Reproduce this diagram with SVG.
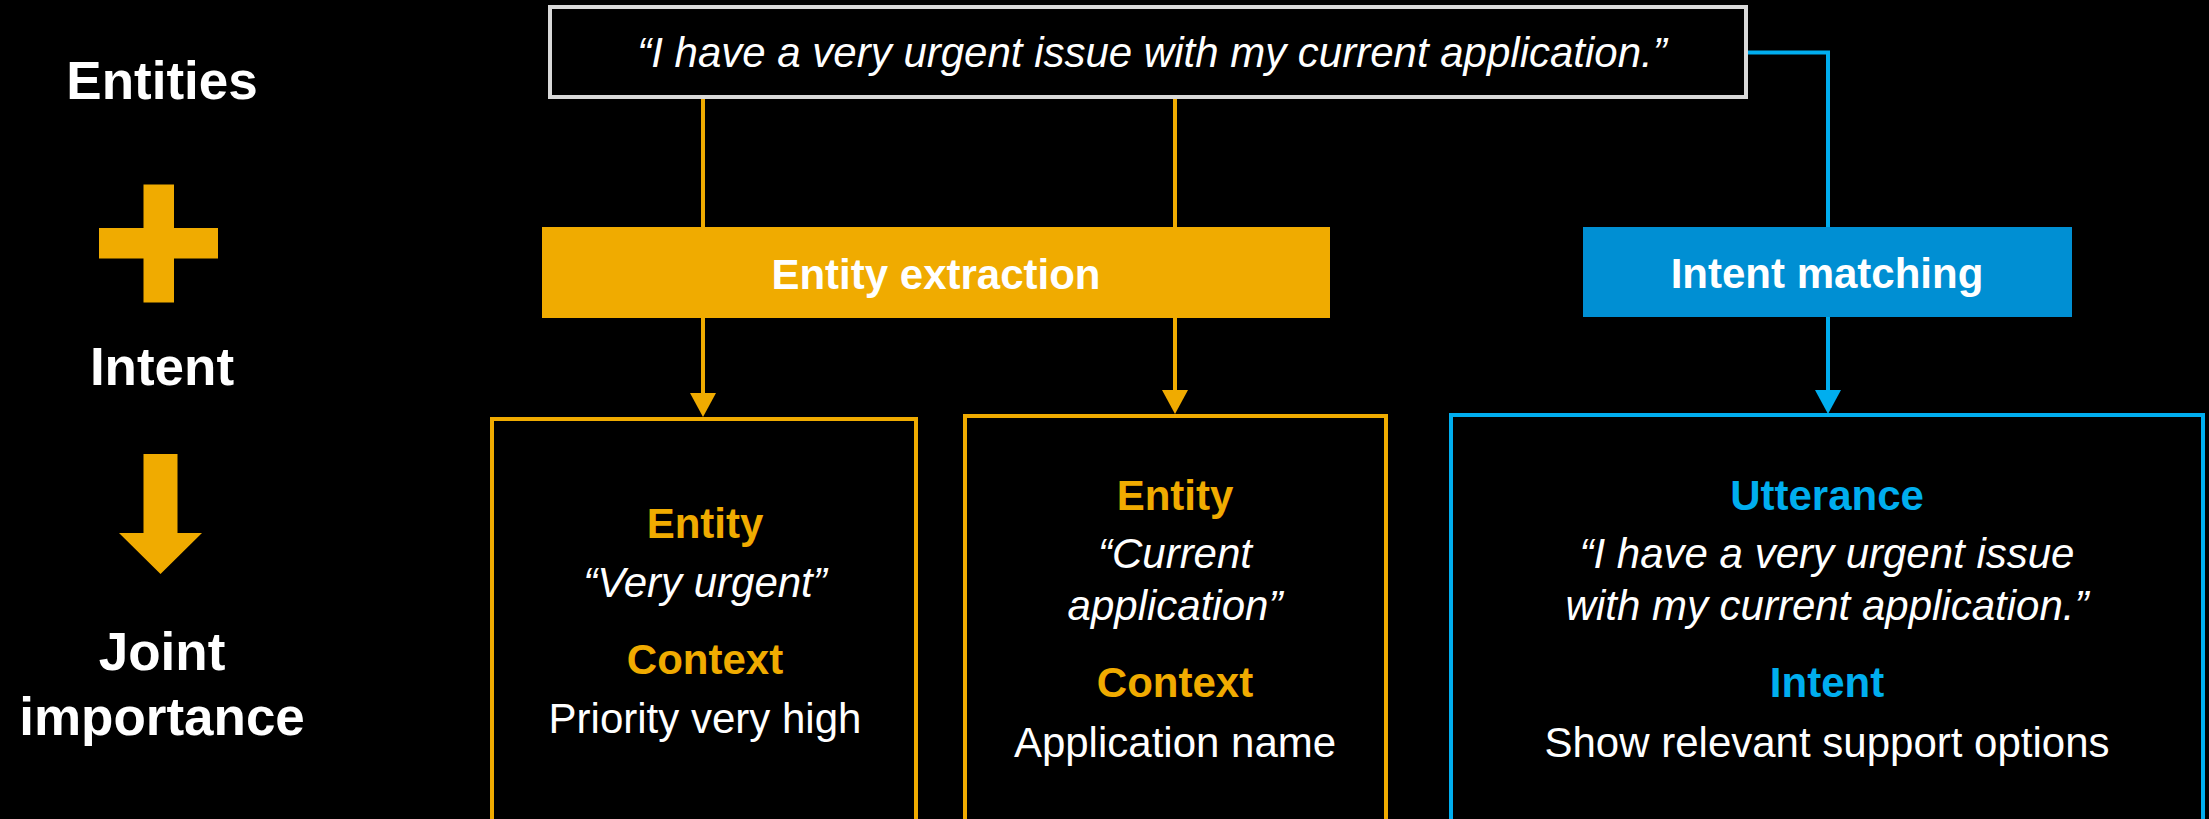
<svg xmlns="http://www.w3.org/2000/svg" width="2209" height="819" viewBox="0 0 2209 819">
<style>
text{font-family:"Liberation Sans",Arial,sans-serif;text-anchor:middle}
.side{font-size:53px;font-weight:bold;fill:#fff}
.t{font-size:42px;fill:#fff}
.i{font-style:italic}
.b{font-weight:bold}
.ot{fill:#F0AB00}
.bt{fill:#00AEEF}
.obox{fill:#000;stroke:#F0AB00;stroke-width:4}
.bbox{fill:#000;stroke:#00AEEF;stroke-width:4}
.ol{fill:none;stroke:#F0AB00;stroke-width:4}
.bl{fill:none;stroke:#00AEEF;stroke-width:4}
.oh{fill:#F0AB00}
.bh{fill:#00AEEF}
</style>
<rect x="0" y="0" width="2209" height="819" fill="#000"/>
<g id="legend">
<text class="side" x="162" y="99">Entities</text>
<rect x="143.5" y="184.5" width="30.5" height="118" fill="#F0AB00"/>
<rect x="99" y="228" width="119" height="30.5" fill="#F0AB00"/>
<text class="side" x="162" y="385">Intent</text>
<polygon points="143.5,454 177.5,454 177.5,533 202,533 160.5,574 119,533 143.5,533" fill="#F0AB00"/>
<text class="side" x="162" y="670">Joint</text>
<text class="side" x="162" y="735">importance</text>
</g>
<g id="connectors">
<path class="ol" d="M703,99 V227"/>
<path class="ol" d="M1175,99 V227"/>
<path class="ol" d="M703,318 V396"/>
<polygon class="oh" points="690,393 716,393 703,417"/>
<path class="ol" d="M1175,318 V393"/>
<polygon class="oh" points="1162,390 1188,390 1175,414"/>
<path class="bl" d="M1748,52.5 H1828 V227"/>
<path class="bl" d="M1828,317 V393"/>
<polygon class="bh" points="1815,390 1841,390 1828,414"/>
</g>
<g id="utterance-top">
<rect x="550" y="7" width="1196" height="90" fill="#000" stroke="#D9D9D9" stroke-width="4"/>
<text class="t i" x="1152" y="67">“I have a very urgent issue with my current application.”</text>
</g>
<g id="entity-extraction">
<rect x="542" y="227" width="788" height="91" fill="#F0AB00"/>
<text class="t b" x="936" y="289">Entity extraction</text>
</g>
<g id="intent-matching">
<rect x="1583" y="227" width="489" height="90" fill="#008FD3"/>
<text class="t b" x="1827" y="288">Intent matching</text>
</g>
<g id="entity-1">
<rect class="obox" x="492" y="419" width="424" height="500"/>
<text class="t b ot" x="705" y="538">Entity</text>
<text class="t i" x="705" y="597">“Very urgent”</text>
<text class="t b ot" x="705" y="674">Context</text>
<text class="t" x="705" y="733">Priority very high</text>
</g>
<g id="entity-2">
<rect class="obox" x="965" y="416" width="421" height="500"/>
<text class="t b ot" x="1175" y="510">Entity</text>
<text class="t i" x="1175" y="568">“Current</text>
<text class="t i" x="1175" y="620">application”</text>
<text class="t b ot" x="1175" y="697">Context</text>
<text class="t" x="1175" y="757">Application name</text>
</g>
<g id="intent-result">
<rect class="bbox" x="1451" y="415" width="752" height="500"/>
<text class="t b bt" x="1827" y="510">Utterance</text>
<text class="t i" x="1827" y="568">“I have a very urgent issue</text>
<text class="t i" x="1827" y="620">with my current application.”</text>
<text class="t b bt" x="1827" y="697">Intent</text>
<text class="t" x="1827" y="757">Show relevant support options</text>
</g>
</svg>
